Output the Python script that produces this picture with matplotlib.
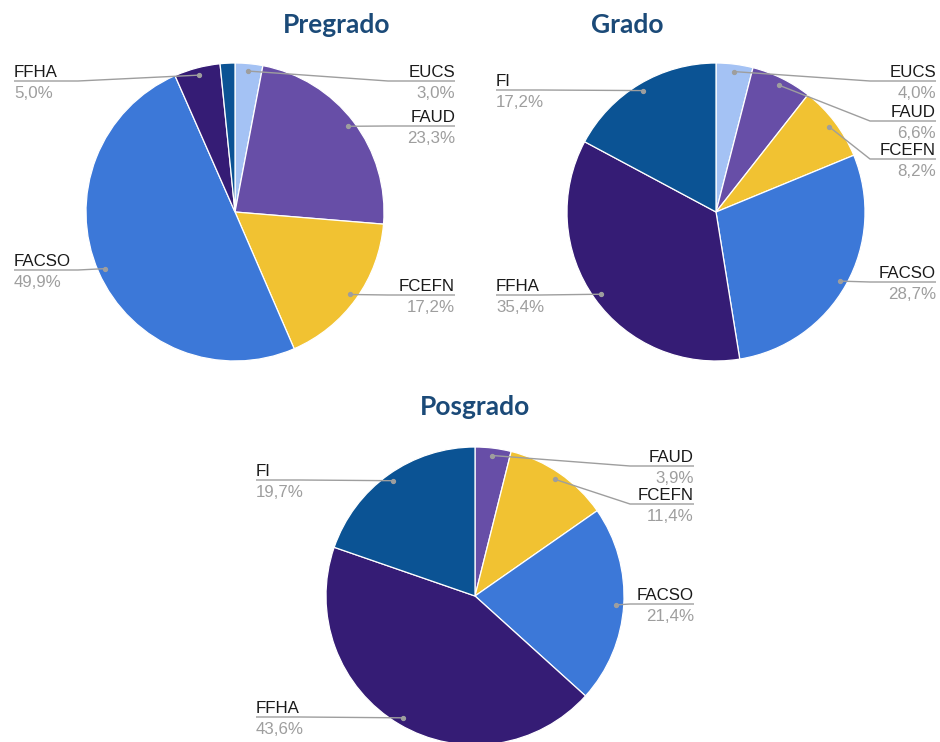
import numpy as np
import matplotlib
matplotlib.use('Agg')
import matplotlib.pyplot as plt

W, H = 940, 742

# porcentaje por facultad en cada nivel (sentido horario desde arriba)
pre_names = ['EUCS', 'FAUD', 'FCEFN', 'FACSO', 'FFHA', 'FI']
pre_vals = [3.0, 23.3, 17.2, 49.9, 5.0, 1.6]

gra_names = ['EUCS', 'FAUD', 'FCEFN', 'FACSO', 'FFHA', 'FI']
gra_vals = [4.0, 6.6, 8.2, 28.7, 35.4, 17.2]

pos_names = ['FAUD', 'FCEFN', 'FACSO', 'FFHA', 'FI']
pos_vals = [3.9, 11.4, 21.4, 43.6, 19.7]

colores = {
    'EUCS': '#a4c2f4',
    'FAUD': '#674ea7',
    'FCEFN': '#f1c232',
    'FACSO': '#3c78d8',
    'FFHA': '#351c75',
    'FI': '#0b5394',
}

TITLE_COLOR = '#1b4a78'
GRIS = '#9e9e9e'

fig = plt.figure(figsize=(W / 100, H / 100), dpi=100)
ax = fig.add_axes([0, 0, 1, 1])


def Y(y):
    # coordenadas en pixeles con origen arriba
    return H - y


def torta(nombres, valores, cx, cy, r, titulo, tx, ty, etiquetas):
    ax.pie(valores, colors=[colores[n] for n in nombres], startangle=90,
           counterclock=False, center=(cx, Y(cy)), radius=r,
           wedgeprops=dict(edgecolor='white', linewidth=0.9))
    ax.text(tx, Y(ty), titulo, ha='center', va='baseline', fontsize=19,
            fontweight='bold', family='Lato', color=TITLE_COLOR)

    total = sum(valores)
    acum = np.cumsum([0] + list(valores))
    for i, n in enumerate(nombres):
        if n not in etiquetas:
            continue
        lx, ly, lado, codo = etiquetas[n]
        ang = np.deg2rad((acum[i] + valores[i] / 2) / total * 360)
        px = cx + 0.95 * r * np.sin(ang)
        py = cy - 0.95 * r * np.cos(ang)
        ax.plot([px, codo, lx], [Y(py), Y(ly), Y(ly)], color=GRIS, lw=1.0,
                solid_capstyle='butt', zorder=3)
        ax.plot([px], [Y(py)], 'o', ms=2.8, color=GRIS, zorder=4)
        ha = 'right' if lado == 'r' else 'left'
        ax.text(lx, Y(ly - 4), n, ha=ha, va='baseline', fontsize=12.2,
                family='Liberation Sans', color='#1a1a1a')
        txt = f'{valores[i]:.1f}'.replace('.', ',') + '%'
        ax.text(lx, Y(ly + 17), txt, ha=ha, va='baseline', fontsize=12.2,
                family='Liberation Sans', color=GRIS)


torta(pre_names, pre_vals, 235, 212, 149, 'Pregrado', 337, 33, {
    'EUCS': (455, 81, 'r', 388),
    'FAUD': (455, 126, 'r', 388),
    'FCEFN': (455, 295, 'r', 388),
    'FFHA': (14, 81, 'l', 78),
    'FACSO': (14, 270, 'l', 78),
})

torta(gra_names, gra_vals, 716, 212, 149, 'Grado', 627, 33, {
    'EUCS': (936, 81, 'r', 870),
    'FAUD': (936, 121, 'r', 870),
    'FCEFN': (936, 159, 'r', 870),
    'FACSO': (936, 282, 'r', 870),
    'FI': (496, 90, 'l', 540),
    'FFHA': (496, 295, 'l', 540),
})

torta(pos_names, pos_vals, 475, 596, 149, 'Posgrado', 475, 415, {
    'FAUD': (694, 466, 'r', 630),
    'FCEFN': (694, 504, 'r', 630),
    'FACSO': (694, 604, 'r', 630),
    'FI': (256, 480, 'l', 300),
    'FFHA': (256, 717, 'l', 300),
})

ax.set_aspect('auto')
ax.set_xlim(0, W)
ax.set_ylim(0, H)
ax.axis('off')

fig.savefig('out.png', dpi=100, facecolor='white')
